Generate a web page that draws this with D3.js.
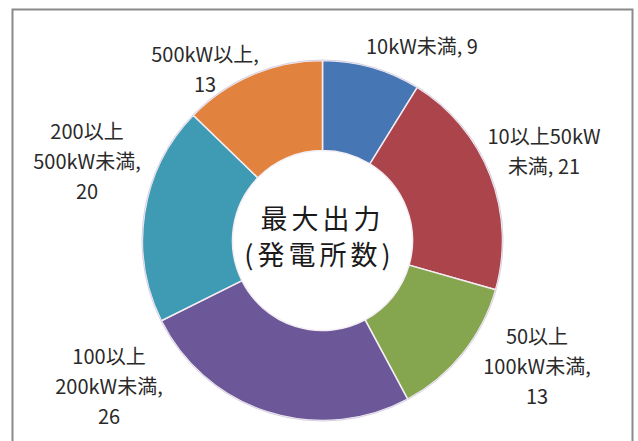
<!DOCTYPE html>
<html><head><meta charset="utf-8">
<script src="https://cdn.jsdelivr.net/npm/d3@7"></script>
<style>
html,body{margin:0;padding:0;background:#fff;}
svg{display:block;}
</style></head>
<body>
<script>
const categories = ["10kW未満", "10以上50kW未満", "50以上100kW未満", "100以上200kW未満", "200以上500kW未満", "500kW以上"];
const values = [9, 21, 13, 26, 20, 13];
const labelLines = [
  ["10kW未満, 9"],
  ["10以上50kW", "未満, 21"],
  ["50以上", "100kW未満,", "13"],
  ["100以上", "200kW未満,", "26"],
  ["200以上", "500kW未満,", "20"],
  ["500kW以上,", "13"]
];
const colors = ["#4676b4", "#ab454b", "#86a54f", "#6c5898", "#3f9bb3", "#e1833f"];
const centerTitle = ["最大出力", "(発電所数)"];

const W = 638, H = 441;
const cx = 322.5, cy = 240.5, rOuter = 180, rInner = 90;

const svg = d3.select("body").append("svg").attr("width", W).attr("height", H);
svg.append("rect").attr("width", W).attr("height", H).attr("fill", "#fff");

// frame
svg.append("path").attr("d", `M12.5,${H} V9.5 H632.5 V${H}`)
  .attr("fill", "none").attr("stroke", "#8a8a8a").attr("stroke-width", 2);

const pie = d3.pie().sort(null).value(d => d)(values);
const arc = d3.arc().innerRadius(rInner).outerRadius(rOuter);
const g = svg.append("g").attr("transform", `translate(${cx},${cy})`);

g.selectAll("path.slice").data(pie).join("path").attr("class", "slice")
  .attr("d", arc)
  .attr("fill", (d, i) => colors[i])
  .attr("stroke", "#f4eef4").attr("stroke-width", 1.5);

// outer rim highlight
g.append("circle").attr("r", rOuter + 0.5).attr("fill", "none")
  .attr("stroke", "#d8d2e4").attr("stroke-width", 1);

// label anchors (centre of block, first line y)
const labelPos = [
  {x: 422, y: 47},
  {x: 544, y: 137},
  {x: 537, y: 337},
  {x: 109, y: 357},
  {x: 87, y: 132},
  {x: 205, y: 55}
];
const lineH = 30;
const lab = svg.append("g")
  .attr("font-family", "'Noto Sans CJK JP', 'Noto Sans', sans-serif")
  .attr("font-size", 20).attr("fill", "#2a2a2a").attr("text-anchor", "middle");
labelLines.forEach((lines, i) => {
  lines.forEach((t, j) => {
    lab.append("text").attr("x", labelPos[i].x).attr("y", labelPos[i].y + j * lineH)
      .attr("dy", "0.35em").text(t);
  });
});

const ct = svg.append("g")
  .attr("font-family", "'Noto Sans CJK JP', sans-serif")
  .attr("font-size", 27).attr("fill", "#1a1a1a").attr("text-anchor", "middle");
ct.append("text").attr("x", cx).attr("y", 220).attr("dy", "0.35em").attr("letter-spacing", 4).text(centerTitle[0]);
ct.append("text").attr("x", cx - 3).attr("y", 256).attr("dy", "0.35em").attr("letter-spacing", 4).text(centerTitle[1]);
</script>
</body></html>
